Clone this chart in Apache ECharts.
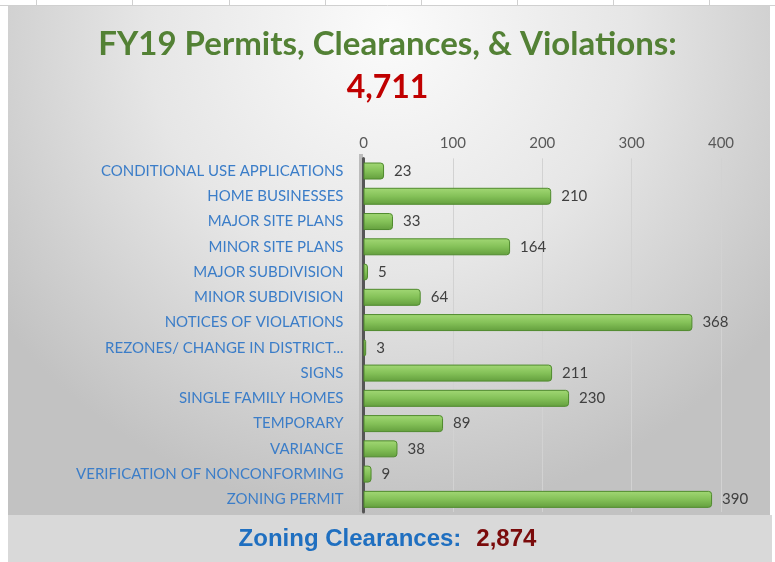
<!DOCTYPE html>
<html>
<head>
<meta charset="utf-8">
<script src="https://cdn.jsdelivr.net/npm/echarts@6/dist/echarts.min.js"></script>
<style>html,body{margin:0;padding:0;background:#fff;}#c{width:775px;height:562px;}</style>
</head>
<body>
<div id="c"></div>
<script>
const categories = [
  "CONDITIONAL USE APPLICATIONS",
  "HOME BUSINESSES",
  "MAJOR SITE PLANS",
  "MINOR SITE PLANS",
  "MAJOR SUBDIVISION",
  "MINOR SUBDIVISION",
  "NOTICES OF VIOLATIONS",
  "REZONES/ CHANGE IN DISTRICT...",
  "SIGNS",
  "SINGLE FAMILY HOMES",
  "TEMPORARY",
  "VARIANCE",
  "VERIFICATION OF NONCONFORMING",
  "ZONING PERMIT"
];
const values = [23, 210, 33, 164, 5, 64, 368, 3, 211, 230, 89, 38, 9, 390];
const titleText = "FY19 Permits, Clearances, & Violations:";
const totalText = "4,711";
const footerLabel = "Zoning Clearances:";
const footerValue = "2,874";
const axisTicks = [0, 100, 200, 300, 400];

const chart = echarts.init(document.getElementById('c'), null, {renderer: 'canvas'});
const bodyFont = 'Lato, "Open Sans", sans-serif';
const footFont = '"Liberation Sans", Arial, sans-serif';

const topLines = [36, 132, 229, 325, 421, 517, 613, 709].map(x => ({
  type: 'line', silent: true, z: -5,
  shape: {x1: x + 0.5, y1: 0, x2: x + 0.5, y2: 5},
  style: {stroke: '#d0d0d0', lineWidth: 1}
}));

chart.setOption({
  backgroundColor: '#ffffff',
  animation: false,
  graphic: [
    ...topLines,
    {type: 'line', silent: true, z: -5, shape: {x1: 0, y1: 5.5, x2: 775, y2: 5.5}, style: {stroke: '#d0d0d0', lineWidth: 1}},
    {type: 'rect', silent: true, z: -10,
     shape: {x: 8, y: 6, width: 762, height: 509},
     style: {fill: new echarts.graphic.RadialGradient(0.5, 0.05, 0.95, [
       {offset: 0, color: '#fbfbfb'},
       {offset: 0.5, color: '#e6e6e6'},
       {offset: 1, color: '#c2c2c2'}
     ])}},
    {type: 'rect', silent: true, z: -10,
     shape: {x: 8, y: 515, width: 764, height: 47},
     style: {fill: '#d9d9d9'}},
    {type: 'rect', silent: true, z: -9,
     shape: {x: 359, y: 154, width: 4, height: 358},
     style: {fill: '#bcbcbc'}}
  ],
  title: [
    {text: titleText, left: 'center', top: 23,
     textStyle: {color: '#538135', fontSize: 33, fontWeight: 'bold', fontFamily: bodyFont}},
    {text: totalText, left: 'center', top: 67,
     textStyle: {color: '#c00000', fontSize: 32, fontWeight: 'bold', fontFamily: bodyFont}},
    {text: '{a|' + footerLabel + '}   {b|' + footerValue + '}', left: 'center', top: 522,
     textStyle: {rich: {
       a: {color: '#1f6fc0', fontSize: 24, fontWeight: 'bold', fontFamily: footFont},
       b: {color: '#7a0b0b', fontSize: 24, fontWeight: 'bold', fontFamily: footFont}
     }}}
  ],
  grid: {left: 363.5, right: 54, top: 158.4, bottom: 50, containLabel: false},
  xAxis: {
    type: 'value', position: 'top', min: axisTicks[0], max: axisTicks[axisTicks.length - 1], interval: 100,
    axisLine: {show: false}, axisTick: {show: false},
    axisLabel: {color: '#595959', fontSize: 15, fontFamily: bodyFont, margin: 8},
    splitLine: {show: true, lineStyle: {color: '#d2d2d2', width: 1}}
  },
  yAxis: {
    type: 'category', data: categories, inverse: true,
    axisLine: {show: true, lineStyle: {color: '#555555', width: 3}},
    axisTick: {show: false},
    axisLabel: {color: '#3b7dc8', fontSize: 15, fontFamily: bodyFont, margin: 20}
  },
  series: [{
    type: 'bar', data: values, barWidth: 17,
    itemStyle: {
      color: new echarts.graphic.LinearGradient(0, 0, 0, 1, [
        {offset: 0, color: '#a2d875'},
        {offset: 0.5, color: '#84c158'},
        {offset: 1, color: '#639e3d'}
      ]),
      borderColor: '#4f8a2d', borderWidth: 1, borderRadius: [0, 3, 3, 0]
    },
    label: {show: true, position: 'right', distance: 10, color: '#404040', fontSize: 15, fontFamily: bodyFont}
  }]
});
</script>
</body>
</html>
